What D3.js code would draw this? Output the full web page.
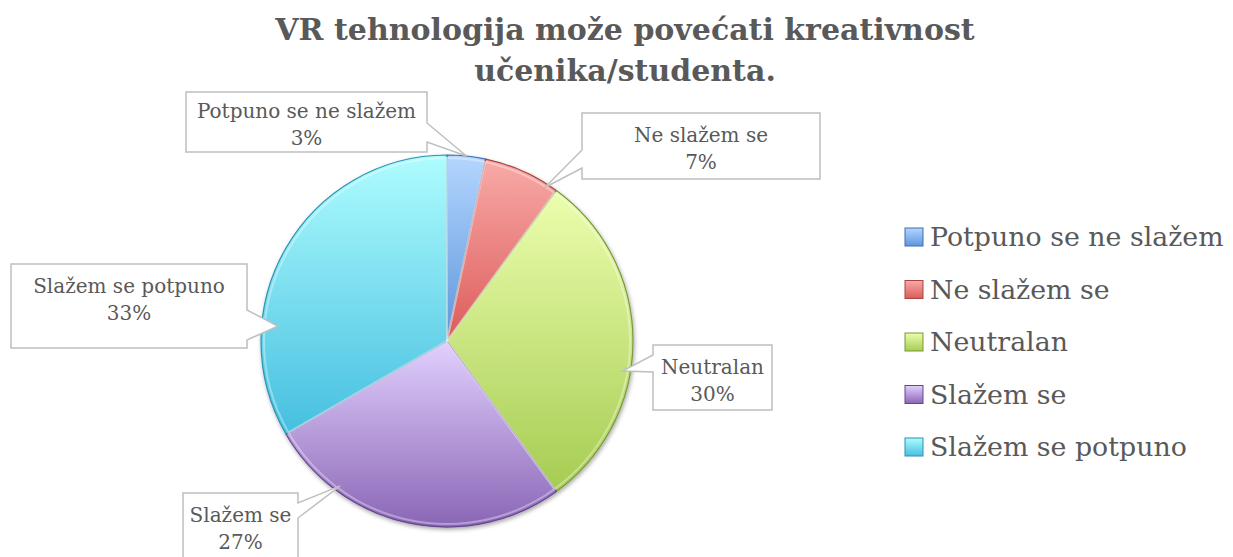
<!DOCTYPE html>
<html>
<head>
<meta charset="utf-8">
<script src="https://cdn.jsdelivr.net/npm/d3@7"></script>
<style>
  body { margin: 0; background: #fff; }
  svg { display: block; }
  text { font-family: "DejaVu Serif", serif; fill: #595959; }
</style>
</head>
<body>
<svg width="1233" height="557"></svg>
<script>
// data: answers of 30 respondents
var categories = ["Potpuno se ne slažem", "Ne slažem se", "Neutralan", "Slažem se", "Slažem se potpuno"];
var counts = [1, 2, 9, 8, 10];
var titleLines = ["VR tehnologija može povećati kreativnost", "učenika/studenta."];

// colours: [top, bottom, edge]
var sliceColours = [
  ["#b4d6fe", "#5d96dc", "#3d6fb0"],
  ["#f8aaa8", "#dc5c5a", "#a84442"],
  ["#ecfeae", "#a6cc52", "#78983a"],
  ["#e2d0fe", "#8a66b6", "#644690"],
  ["#aefcfe", "#46bfe0", "#2c92b0"]
];

// callout layout (box + pointer tip angle/radius)
var callouts = [
  {x: 186, y: 92, w: 241, h: 60, side: "right", b1: 123, b2: 142, ang: 6, r: 186},
  {x: 582, y: 113, w: 238, h: 66, side: "left", b1: 150, b2: 168, ang: 32.5, r: 182},
  {x: 653, y: 345, w: 119, h: 65, side: "left", b1: 355, b2: 372, ang: 99.7, r: 178},
  {x: 183, y: 493, w: 115, h: 72, side: "right", b1: 503, b2: 518, ang: 216.4, r: 180},
  {x: 11, y: 264, w: 236, h: 84, side: "right", b1: 310, b2: 340, ang: 275, r: 170}
];

var svg = d3.select("svg");
var cx = 447, cy = 341, radius = 186;
var total = d3.sum(counts);
var fmt = d3.format(".0%");

var defs = svg.append("defs");
sliceColours.forEach(function(c, i) {
  var g = defs.append("linearGradient").attr("id", "grad" + i)
      .attr("x1", 0).attr("y1", 0).attr("x2", 0).attr("y2", 1);
  g.append("stop").attr("offset", "0%").attr("stop-color", c[0]);
  g.append("stop").attr("offset", "100%").attr("stop-color", c[1]);
});
var shadow = defs.append("filter").attr("id", "shadow")
    .attr("x", "-10%").attr("y", "-10%").attr("width", "120%").attr("height", "120%");
shadow.append("feGaussianBlur").attr("in", "SourceAlpha").attr("stdDeviation", 2).attr("result", "b");
shadow.append("feOffset").attr("in", "b").attr("dx", 1).attr("dy", 2).attr("result", "o");
shadow.append("feComponentTransfer").attr("in", "o").attr("result", "s")
  .append("feFuncA").attr("type", "linear").attr("slope", 0.35);
var merge = shadow.append("feMerge");
merge.append("feMergeNode").attr("in", "s");
merge.append("feMergeNode").attr("in", "SourceGraphic");

// title
svg.append("g").selectAll("text")
  .data(titleLines)
  .enter().append("text")
    .attr("x", 625)
    .attr("y", function(d, i) { return 40 + i * 41; })
    .attr("text-anchor", "middle")
    .style("font-size", "30px")
    .style("font-weight", "bold")
    .text(function(d) { return d; });

// pie
var pie = d3.pie().sort(null).value(function(d) { return d; });
var arcs = pie(counts);
var arc = d3.arc().innerRadius(0).outerRadius(radius);
var bevel = d3.arc().innerRadius(0).outerRadius(radius - 3);

var pieG = svg.append("g").attr("transform", "translate(" + cx + "," + cy + ")");
var slices = pieG.append("g").attr("filter", "url(#shadow)");
slices.selectAll("path.slice")
  .data(arcs)
  .enter().append("path")
    .attr("class", "slice")
    .attr("d", arc)
    .attr("fill", function(d, i) { return "url(#grad" + i + ")"; })
    .attr("stroke", function(d, i) { return sliceColours[i][2]; })
    .attr("stroke-width", 1.2)
    .attr("stroke-linejoin", "round");
// inner bevel highlight
pieG.append("g").selectAll("path")
  .data(arcs)
  .enter().append("path")
    .attr("d", bevel)
    .attr("fill", "none")
    .attr("stroke", "#fff")
    .attr("stroke-opacity", 0.35)
    .attr("stroke-width", 2);

// callouts
var cg = svg.append("g").selectAll("g")
  .data(arcs)
  .enter().append("g");

cg.append("path")
  .attr("d", function(d, i) {
    var c = callouts[i];
    var p = d3.pointRadial(c.ang * Math.PI / 180, c.r);
    var tx = cx + p[0], ty = cy + p[1];
    if (c.side === "right") {
      return "M" + c.x + "," + c.y + "H" + (c.x + c.w) + "V" + c.b1 +
        "L" + tx + "," + ty + "L" + (c.x + c.w) + "," + c.b2 +
        "V" + (c.y + c.h) + "H" + c.x + "Z";
    }
    return "M" + c.x + "," + c.y + "H" + (c.x + c.w) + "V" + (c.y + c.h) +
      "H" + c.x + "V" + c.b2 + "L" + tx + "," + ty + "L" + c.x + "," + c.b1 + "Z";
  })
  .attr("fill", "#fff")
  .attr("stroke", "#bfbfbf")
  .attr("stroke-width", 1.5);

cg.append("text")
  .attr("text-anchor", "middle")
  .style("font-size", "20px")
  .each(function(d, i) {
    var c = callouts[i];
    var t = d3.select(this);
    var mid = c.x + c.w / 2;
    var top = c.y + (Math.min(c.h, 66) - 52) / 2;
    t.append("tspan").attr("x", mid).attr("y", top + 22).text(categories[i]);
    t.append("tspan").attr("x", mid).attr("y", top + 49).text(fmt(d.data / total));
  });

// legend
var legendY = d3.scalePoint().domain(categories).range([237, 447]);
var lg = svg.append("g").selectAll("g")
  .data(categories)
  .enter().append("g")
    .attr("transform", function(d) { return "translate(905," + legendY(d) + ")"; });
lg.append("rect")
  .attr("x", 0).attr("y", -9).attr("width", 18).attr("height", 18)
  .attr("fill", function(d, i) { return "url(#grad" + i + ")"; })
  .attr("stroke", function(d, i) { return sliceColours[i][2]; })
  .attr("stroke-width", 1);
lg.append("text")
  .attr("x", 25)
  .attr("dy", "0.35em")
  .style("font-size", "26.8px")
  .text(function(d) { return d; });
</script>
</body>
</html>
